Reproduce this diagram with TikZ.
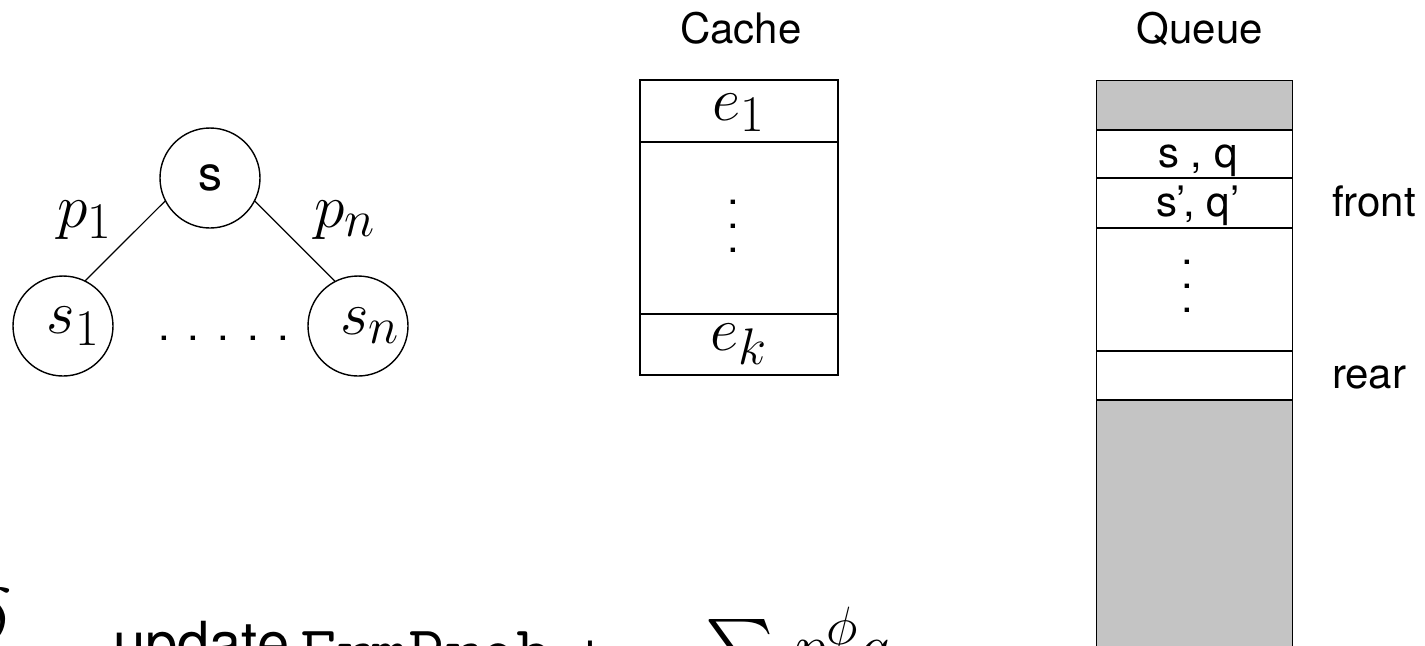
\RequirePackage{fix-cm}
\documentclass[tikz,border=0pt]{standalone}
\usepackage{amsmath}
\usepackage{graphicx}
\usepackage{fontspec}
\setmainfont{TeX Gyre Heros}
\definecolor{qgray}{RGB}{196,196,196}
\newcommand{\mathbigger}[1]{\scalebox{1.24}{$#1$}}
\begin{document}
\begin{tikzpicture}[x=0.5pt,y=-0.5pt,
  every node/.style={inner sep=0pt, outer sep=0pt},
  sf/.style={font=\fontsize{21}{12}\selectfont},
  mth/.style={font=\fontsize{24.88}{30}\selectfont},
  state/.style={draw, circle, minimum size=50pt, line width=0.7pt},
  edge/.style={line width=0.6pt},
  cell/.style={draw, line width=0.75pt, minimum width=99pt},
  qcell/.style={draw, line width=0.75pt, minimum width=98pt},
  vdotsnode/.style={sf, align=center}]
\useasboundingbox (0,0) rectangle (1425,645);

% tree
\node[state, font=\fontsize{24}{24}\selectfont] (s) at (210,178) {s};
\node[state, mth] (s1) at (63,326) {\kern10.5pt\raisebox{-2pt}{\mathbigger{s_1}}};
\node[state, mth] (sn) at (358,326) {\kern12pt\raisebox{-2pt}{\mathbigger{s_n}}};
\draw[edge] (s.207) -- (s1.64);
\draw[edge] (s.333) -- (sn.117);
\node[mth, anchor=base] (p1) at (85,227) {\mathbigger{p_1}};
\node[mth, anchor=base] (pn) at (345,227) {\mathbigger{p_n}};
\node[sf, anchor=base] (hdots) at (223.5,340) {.\kern9pt.\kern9pt.\kern9pt.\kern9pt.};

% cache
\node[sf, anchor=base] (cachelbl) at (741,43) {Cache};
\node[cell, minimum height=31pt] (e1) at (739,111) {};
\node[cell, minimum height=86pt] (emid) at (739,228) {};
\node[cell, minimum height=30.5pt] (ek) at (739,344.5) {};
\node[mth, anchor=base] (e1t) at (739,120) {\mathbigger{e_1}};
\node[mth, anchor=base] (ekt) at (739,350) {\mathbigger{e_k}};
\node[vdotsnode] (cdots) at (733,226) {.\\.\\.};

% queue
\node[sf, anchor=base] (queuelbl) at (1200,43) {Queue};
\node[qcell, fill=qgray, minimum height=24.75pt] (qtop) at (1194.5,105.25) {};
\node[qcell, minimum height=24pt] (q1) at (1194.5,154) {};
\node[qcell, minimum height=25pt] (q2) at (1194.5,203) {};
\node[qcell, minimum height=61.5pt] (qmid) at (1194.5,289.5) {};
\node[qcell, minimum height=24.5pt] (qrear) at (1194.5,375.5) {};
\node[qcell, fill=qgray, minimum height=150pt] (qbot) at (1194.5,550) {};
\node[sf, anchor=base] (q1t) at (1198,167) {s , q};
\node[sf, anchor=base] (q2t) at (1198,216) {s', q'};
\node[vdotsnode] (qdots) at (1187,286) {.\\.\\.};
\node[sf, anchor=base west] (front) at (1332,216) {front};
\node[sf, anchor=base west] (rear) at (1332,388) {rear};

% bottom (cut off) line
\node[anchor=base east, mth] (delta) at (12,640) {\scalebox{1.5}{$\delta$}};
\node[anchor=base west, font=\fontsize{29}{30}\selectfont] (upd) at (113,663) {update};
\node[anchor=base west, font=\fontsize{35}{30}\ttfamily] (frm) at (300,674) {FrmProb};
\node[anchor=base, font=\fontsize{29}{30}\selectfont] (plus) at (590,668) {+};
\node[anchor=base west, mth] (sum) at (705,668) {\scalebox{1.3}{$\sum\, p^{\phi} q$}};
\end{tikzpicture}
\end{document}
